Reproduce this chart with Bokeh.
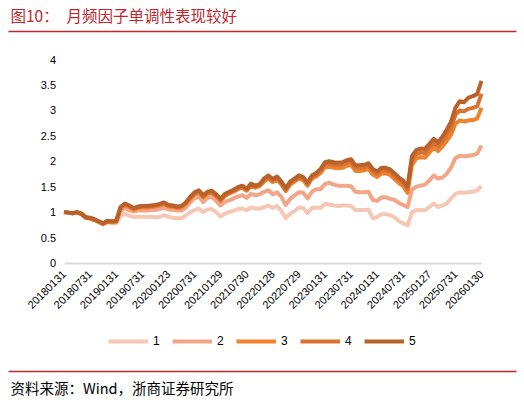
from bokeh.plotting import figure
from bokeh.models import (Range1d, FixedTicker, NumeralTickFormatter, Legend, LegendItem,
                          Label, BoxAnnotation)
from bokeh.embed import file_html
from bokeh.resources import INLINE
import math

# month index 0..96 (2018-01 .. 2026-01), tick every 6 months
tick_pos = [0, 6, 12, 18, 24, 30, 36, 42, 48, 54, 60, 66, 72, 78, 84, 90, 96]
tick_labels = ["20180131", "20180731", "20190131", "20190731", "20200123", "20200731",
               "20210129", "20210730", "20220128", "20220729", "20230131", "20230731",
               "20240131", "20240731", "20250127", "20250731", "20260130"]
y_ticks = [0, 0.5, 1, 1.5, 2, 2.5, 3, 3.5, 4]

g1 = [1.00, 0.99, 0.98, 0.99, 0.96, 0.88, 0.87, 0.84, 0.80, 0.76, 0.80, 0.78, 0.78,
      0.92, 0.97, 0.93, 0.90, 0.91, 0.91, 0.91, 0.91, 0.90, 0.91, 0.94, 0.91, 0.89,
      0.88, 0.88, 0.93, 1.00, 1.04, 1.07, 1.00, 1.05, 1.06, 1.00, 0.91, 0.97, 1.00,
      1.03, 1.06, 1.07, 1.04, 1.09, 1.07, 1.07, 1.10, 1.13, 1.08, 1.12, 1.02, 0.88,
      0.97, 1.02, 1.09, 1.08, 0.98, 1.08, 1.09, 1.08, 1.16, 1.15, 1.13, 1.12, 1.13,
      1.13, 1.12, 1.04, 1.04, 1.04, 1.05, 0.88, 0.90, 0.96, 0.96, 0.94, 0.90, 0.82,
      0.78, 0.74, 1.00, 1.04, 1.04, 1.04, 1.10, 1.17, 1.10, 1.13, 1.17, 1.27, 1.36,
      1.39, 1.38, 1.39, 1.40, 1.43, 1.51]
g2 = [1.00, 0.99, 0.98, 0.99, 0.96, 0.89, 0.88, 0.85, 0.81, 0.77, 0.81, 0.80, 0.80,
      1.02, 1.08, 1.04, 1.01, 1.03, 1.03, 1.03, 1.04, 1.04, 1.06, 1.09, 1.05, 1.04,
      1.03, 1.03, 1.09, 1.19, 1.27, 1.31, 1.20, 1.28, 1.30, 1.22, 1.13, 1.20, 1.23,
      1.27, 1.31, 1.33, 1.28, 1.36, 1.33, 1.35, 1.40, 1.43, 1.35, 1.39, 1.30, 1.14,
      1.26, 1.33, 1.39, 1.38, 1.27, 1.40, 1.45, 1.45, 1.55, 1.58, 1.54, 1.52, 1.52,
      1.52, 1.51, 1.40, 1.39, 1.39, 1.40, 1.24, 1.22, 1.29, 1.29, 1.26, 1.24, 1.18,
      1.14, 1.10, 1.44, 1.50, 1.52, 1.54, 1.62, 1.72, 1.66, 1.68, 1.75, 1.88, 2.06,
      2.11, 2.10, 2.11, 2.12, 2.15, 2.31]
g3 = [1.00, 0.99, 0.98, 0.99, 0.96, 0.89, 0.88, 0.85, 0.81, 0.77, 0.81, 0.80, 0.81,
      1.07, 1.14, 1.10, 1.05, 1.08, 1.09, 1.09, 1.10, 1.11, 1.13, 1.16, 1.11, 1.10,
      1.08, 1.09, 1.16, 1.26, 1.35, 1.39, 1.29, 1.36, 1.38, 1.31, 1.22, 1.32, 1.36,
      1.40, 1.45, 1.48, 1.42, 1.52, 1.48, 1.51, 1.60, 1.66, 1.59, 1.64, 1.54, 1.41,
      1.54, 1.60, 1.66, 1.63, 1.52, 1.66, 1.70, 1.77, 1.88, 1.89, 1.87, 1.86, 1.87,
      1.91, 1.93, 1.81, 1.81, 1.82, 1.85, 1.74, 1.69, 1.76, 1.76, 1.73, 1.65, 1.57,
      1.51, 1.38, 1.93, 2.05, 2.08, 2.07, 2.17, 2.27, 2.20, 2.29, 2.40, 2.52, 2.74,
      2.80, 2.78, 2.80, 2.81, 2.84, 3.05]
g4 = [1.00, 0.99, 0.98, 1.00, 0.97, 0.90, 0.88, 0.85, 0.81, 0.77, 0.82, 0.81, 0.82,
      1.09, 1.16, 1.12, 1.07, 1.10, 1.11, 1.11, 1.12, 1.13, 1.15, 1.18, 1.13, 1.12,
      1.10, 1.11, 1.18, 1.28, 1.37, 1.41, 1.31, 1.38, 1.40, 1.33, 1.24, 1.34, 1.38,
      1.42, 1.47, 1.50, 1.44, 1.54, 1.50, 1.53, 1.63, 1.69, 1.62, 1.67, 1.57, 1.44,
      1.57, 1.63, 1.69, 1.66, 1.55, 1.69, 1.74, 1.81, 1.93, 1.95, 1.93, 1.92, 1.93,
      1.97, 1.99, 1.87, 1.87, 1.88, 1.91, 1.80, 1.75, 1.82, 1.82, 1.79, 1.71, 1.63,
      1.57, 1.45, 2.02, 2.14, 2.17, 2.16, 2.26, 2.36, 2.29, 2.39, 2.52, 2.66, 2.91,
      3.00, 2.98, 3.03, 3.05, 3.08, 3.33]
g5 = [1.00, 0.99, 0.98, 1.00, 0.97, 0.90, 0.89, 0.86, 0.82, 0.78, 0.83, 0.82, 0.83,
      1.10, 1.17, 1.13, 1.08, 1.11, 1.12, 1.12, 1.13, 1.14, 1.16, 1.19, 1.14, 1.13,
      1.11, 1.12, 1.19, 1.30, 1.39, 1.43, 1.33, 1.40, 1.42, 1.35, 1.26, 1.36, 1.40,
      1.44, 1.49, 1.52, 1.46, 1.56, 1.52, 1.55, 1.66, 1.72, 1.65, 1.70, 1.60, 1.47,
      1.60, 1.66, 1.72, 1.69, 1.58, 1.72, 1.77, 1.85, 1.98, 2.00, 1.98, 1.97, 1.98,
      2.02, 2.04, 1.92, 1.92, 1.93, 1.96, 1.85, 1.80, 1.87, 1.87, 1.84, 1.76, 1.68,
      1.62, 1.50, 2.10, 2.22, 2.25, 2.24, 2.34, 2.44, 2.37, 2.48, 2.62, 2.78, 3.05,
      3.18, 3.16, 3.25, 3.28, 3.32, 3.58]

names = ["1", "2", "3", "4", "5"]
series = [g1, g2, g3, g4, g5]
colors = ["#F7C7B6", "#F2A687", "#F0822F", "#D9732F", "#B8612A"]
months = list(range(len(g5)))

# canvas and plot-area geometry in pixels (whole canvas is the frame)
W, H = 520, 398
px0, px1 = 63.5, 481.0     # pixel x of first / last month
py_top, py0 = 59.0, 262.5  # pixel y of value 4 / value 0
kx = 96 / (px1 - px0)
ky = 4 / (py0 - py_top)

p = figure(width=W, height=H, output_backend="svg", toolbar_location=None,
           x_range=Range1d(-px0 * kx, 96 + (W - px1) * kx),
           y_range=Range1d(-(H - py0) * ky, 4 + py_top * ky),
           min_border=0)
p.outline_line_color = None
p.grid.grid_line_color = None

items = []
for name, ys, c in zip(names, series, colors):
    r = p.line(months, ys, line_color=c, line_width=4, line_join="round")
    items.append(LegendItem(label=name, renderers=[r]))

font = "Liberation Sans"
p.xaxis.fixed_location = 0
p.xaxis.bounds = (0, 96)
p.xaxis.ticker = FixedTicker(ticks=tick_pos)
p.xaxis.major_label_overrides = dict(zip(tick_pos, tick_labels))
p.xaxis.major_label_orientation = math.pi / 4
p.xaxis.axis_line_color = "#D9D9D9"
p.xaxis.axis_line_width = 2
p.xaxis.major_tick_line_color = None
p.xaxis.minor_tick_line_color = None
p.xaxis.major_tick_out = 0
p.xaxis.major_label_standoff = 9

p.yaxis.fixed_location = 0
p.yaxis.bounds = (0, 4)
p.yaxis.ticker = FixedTicker(ticks=y_ticks)
p.yaxis.formatter = NumeralTickFormatter(format="0.[0]")
p.yaxis.axis_line_color = None
p.yaxis.major_tick_line_color = None
p.yaxis.minor_tick_line_color = None
p.yaxis.major_tick_out = 0
p.yaxis.major_label_standoff = 8

for ax in (p.xaxis, p.yaxis):
    ax.major_label_text_font = font
    ax.major_label_text_font_size = "11px"
    ax.major_label_text_color = "#000000"

legend = Legend(items=items, orientation="horizontal", location=(108, H - 348),
                glyph_width=40, glyph_height=14, label_width=12, spacing=7,
                label_standoff=5, padding=0, margin=0, border_line_color=None,
                background_fill_alpha=0, label_text_font=font,
                label_text_font_size="12px", label_text_color="#000000")
p.add_layout(legend)

red = "#C0272D"
cjk = "Noto Sans CJK SC"


def rule(py):
    return BoxAnnotation(left=8, right=W - 4, bottom=H - py - 0.75, top=H - py + 0.75,
                         left_units="screen", right_units="screen",
                         bottom_units="screen", top_units="screen",
                         fill_color=red, fill_alpha=1, line_color=None)


p.add_layout(Label(x=10, y=H - 14, x_units="screen", y_units="screen",
                   text="图10：\u2002月频因子单调性表现较好", text_color=red,
                   text_font=cjk, text_font_size="15.5px", text_baseline="middle"))
p.add_layout(rule(31))
p.add_layout(rule(371))
p.add_layout(Label(x=10, y=H - 387, x_units="screen", y_units="screen",
                   text="资料来源：Wind，浙商证券研究所", text_color="#000000",
                   text_font=cjk, text_font_size="14.5px", text_baseline="middle"))

open("out.html", "w").write(file_html(p, INLINE))
